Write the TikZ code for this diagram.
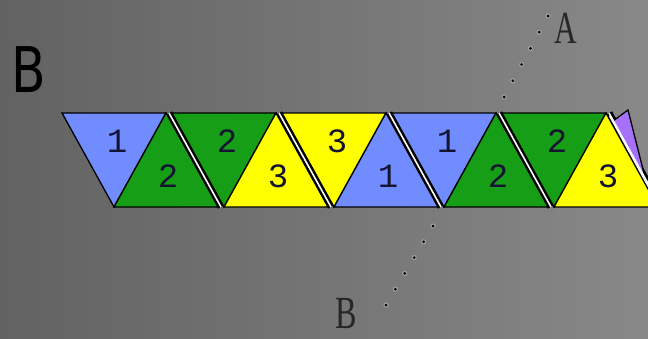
\documentclass[tikz,border=0pt]{standalone}
\usepackage{fontspec}
\usetikzlibrary{calc}
\newfontfamily\digitfont{Liberation Mono}
\newfontfamily\labfont{Liberation Serif}
\newfontfamily\bigfont{DejaVu Sans}
\definecolor{tblue}{RGB}{112,140,255}
\definecolor{tgreen}{RGB}{22,158,22}
\definecolor{tyellow}{RGB}{255,255,0}
\definecolor{tpurple}{RGB}{166,112,250}
\definecolor{bgl}{RGB}{98,98,98}
\definecolor{bgr}{RGB}{136,136,136}
\definecolor{numcol}{RGB}{20,20,50}
\definecolor{halo}{RGB}{160,160,160}
\begin{document}
\begin{tikzpicture}[x=1pt,y=-1pt,
  tri/.style={draw=black, line width=1.3pt, line join=miter},
  num/.style={font=\digitfont\fontsize{34}{34}\selectfont, text=numcol, inner sep=0pt},
  seamblack/.style={draw=black, line width=7pt},
  seamwhite/.style={draw=white, line width=1.6pt},
  dothalo/.style={fill=halo},
  dotpt/.style={fill=black},
  lab/.style={font=\labfont\fontsize{46}{46}\selectfont, inner sep=0pt, text=black!85}]
\fill[left color=bgl,right color=bgr] (0,0) rectangle (648,338);
\useasboundingbox (0,0) rectangle (648,338);
\clip (0,0) rectangle (648,338);

% big B
\node[font=\bigfont\fontsize{63}{63}\selectfont, xscale=0.8, inner sep=0pt] (bigB) at (29,70) {B};

% seams
\foreach \k in {0,...,4}{
  \pgfmathsetmacro\xo{62+110*\k}
  \draw[seamblack] (\xo+107,113) -- (\xo+159,207);
}
% purple piece
\draw[black, line width=5pt] (610,113) -- (663,210);
\filldraw[fill=tpurple, draw=black, line width=1.3pt] (613,121) -- (628,110) -- (652,205) -- (660,205) -- cycle;

% triangle pairs
\foreach \k/\cd/\cu/\nd/\nu in {0/tblue/tgreen/1/2,1/tgreen/tyellow/2/3,2/tyellow/tblue/3/1,3/tblue/tgreen/1/2,4/tgreen/tyellow/2/3}{
  \pgfmathsetmacro\xo{62+110*\k}
  \filldraw[tri, fill=\cd] (\xo,113) -- (\xo+104,113) -- (\xo+52,207) -- cycle;
  \filldraw[tri, fill=\cu] (\xo+52,207) -- (\xo+104,113) -- (\xo+156,207) -- cycle;
  \node[num] (d\k) at (\xo+55,141) {\nd};
  \node[num] (u\k) at (\xo+106,176) {\nu};
}
\foreach \k in {0,...,4}{
  \pgfmathsetmacro\xo{62+110*\k}
  \draw[seamwhite] (\xo+107,113) -- (\xo+159,207);
}
\draw[white, line width=1.1pt] (609.5,116) -- (661,210);

% labels and dotted connectors
\node[lab, xscale=0.68] (A) at (566,28) {A};
\node[lab, xscale=0.7] (B) at (346,314) {B};
\coordinate (a1) at (548,16);
\coordinate (a2) at (504,97);
\coordinate (b1) at (433,226);
\coordinate (b2) at (386,305);
\foreach \t in {0,0.2,...,1.01}{
  \path[dothalo] ($(a1)!\t!(a2)$) circle[radius=2.6pt];
  \path[dothalo] ($(b1)!\t!(b2)$) circle[radius=2.6pt];
  \path[dotpt] ($(a1)!\t!(a2)$) circle[radius=1.5pt];
  \path[dotpt] ($(b1)!\t!(b2)$) circle[radius=1.5pt];
}
\end{tikzpicture}
\end{document}
